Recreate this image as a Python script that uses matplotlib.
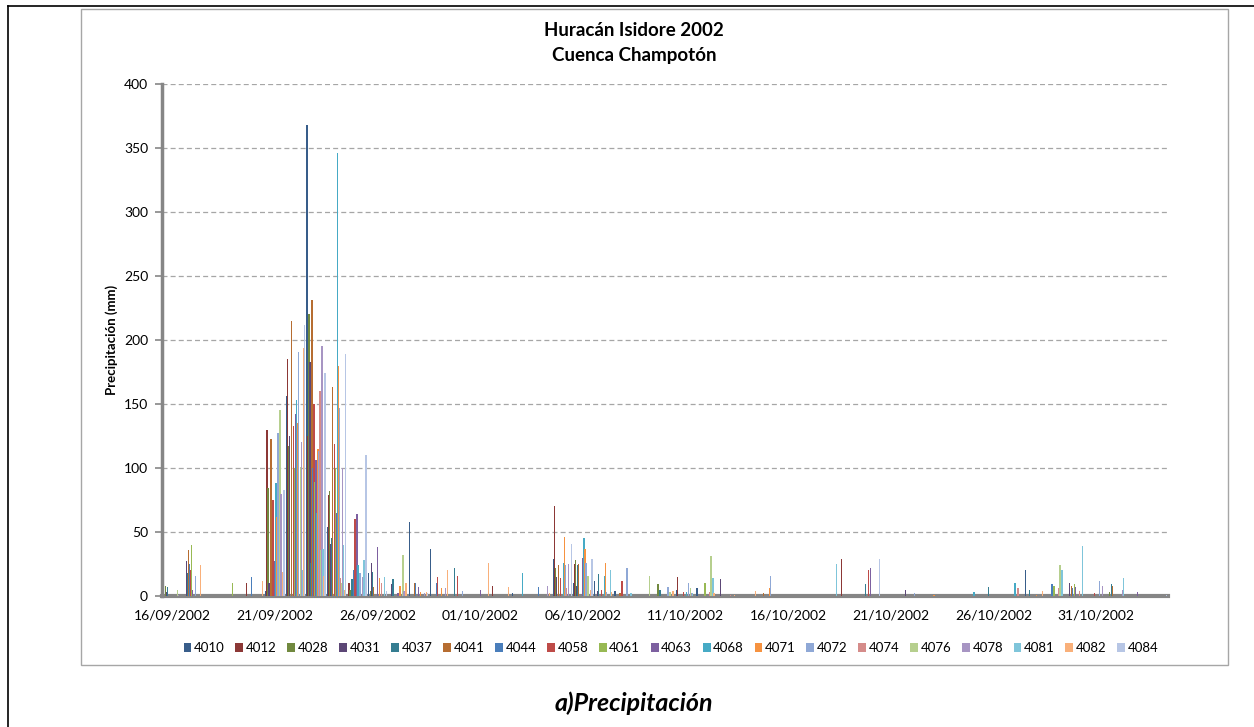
import numpy as np
import matplotlib
matplotlib.use("Agg")
import matplotlib.pyplot as plt
from matplotlib.patches import Rectangle
from matplotlib.lines import Line2D

plt.rcParams["font.family"] = ["Lato", "DejaVu Sans"]

# Daily rainfall (mm), 16/09/2002 .. 03/11/2002, one row per week
p4010 = [0, 0, 0, 0, 0, 4, 156,
         368, 54, 0, 18, 0, 58, 37,
         0, 0, 0, 2, 0, 29, 10,
         12, 4, 0, 0, 5, 6, 0,
         0, 0, 0, 0, 0, 0, 0,
         0, 0, 0, 0, 0, 0, 0,
         20, 0, 0, 0, 0, 0, 0]
p4012 = [0, 0, 0, 0, 10, 130, 185,
         125, 79, 10, 0, 0, 0, 0,
         0, 0, 8, 0, 0, 70, 25,
         0, 0, 0, 0, 15, 0, 0,
         0, 0, 0, 0, 0, 29, 0,
         0, 0, 0, 0, 0, 0, 0,
         0, 0, 0, 0, 0, 0, 0]
p4028 = [8, 0, 0, 0, 0, 84, 117,
         220, 82, 5, 4, 0, 0, 0,
         0, 0, 0, 0, 0, 22, 28,
         0, 0, 0, 9, 0, 0, 0,
         0, 0, 0, 0, 0, 0, 0,
         0, 0, 0, 0, 0, 0, 0,
         0, 0, 0, 0, 3, 0, 0]
p4031 = [3, 27, 0, 0, 0, 10, 125,
         183, 41, 0, 26, 9, 0, 0,
         0, 0, 0, 0, 0, 15, 8,
         4, 0, 0, 0, 0, 0, 13,
         0, 0, 0, 0, 0, 0, 0,
         0, 5, 0, 0, 0, 0, 0,
         0, 0, 10, 0, 0, 0, 0]
p4037 = [7, 18, 0, 0, 0, 0, 0,
         26, 45, 13, 19, 13, 0, 0,
         22, 0, 0, 0, 0, 0, 24,
         17, 0, 0, 5, 0, 0, 0,
         0, 0, 0, 0, 0, 0, 9,
         0, 0, 0, 0, 0, 7, 0,
         5, 0, 0, 0, 9, 0, 0]
p4041 = [0, 36, 0, 0, 0, 123, 215,
         231, 163, 0, 7, 0, 10, 0,
         0, 0, 0, 0, 0, 24, 25,
         0, 2, 0, 0, 0, 0, 0,
         0, 2, 0, 0, 0, 0, 0,
         0, 0, 0, 0, 0, 0, 0,
         0, 0, 8, 0, 8, 0, 0]
p4044 = [0, 25, 0, 0, 15, 0, 0,
         100, 0, 20, 0, 0, 10, 10,
         0, 0, 0, 0, 7, 0, 0,
         0, 0, 0, 0, 0, 0, 0,
         0, 0, 0, 0, 0, 0, 0,
         0, 0, 0, 0, 0, 0, 0,
         0, 9, 6, 0, 0, 0, 0]
p4058 = [0, 20, 0, 0, 0, 75, 133,
         150, 119, 60, 0, 0, 0, 15,
         16, 0, 0, 0, 0, 14, 0,
         5, 12, 0, 0, 3, 0, 0,
         0, 0, 0, 0, 0, 0, 20,
         0, 0, 0, 0, 0, 0, 0,
         0, 0, 0, 2, 0, 0, 0]
p4061 = [0, 40, 0, 10, 0, 0, 100,
         89, 100, 0, 0, 0, 0, 0,
         0, 0, 0, 0, 0, 0, 0,
         0, 0, 0, 0, 0, 10, 0,
         0, 0, 0, 0, 0, 0, 0,
         0, 0, 0, 0, 0, 0, 0,
         0, 8, 9, 0, 0, 0, 0]
p4063 = [0, 5, 0, 0, 0, 27, 142,
         106, 65, 64, 38, 2, 7, 0,
         0, 5, 0, 0, 0, 0, 30,
         0, 0, 0, 0, 0, 0, 0,
         0, 0, 0, 0, 0, 0, 22,
         0, 0, 0, 0, 0, 0, 0,
         0, 0, 7, 0, 0, 3, 0]
p4068 = [0, 0, 0, 0, 0, 88, 153,
         65, 346, 24, 0, 0, 0, 0,
         0, 0, 0, 18, 0, 26, 45,
         16, 0, 0, 0, 3, 0, 0,
         0, 0, 0, 0, 0, 0, 0,
         0, 0, 0, 0, 3, 0, 10,
         0, 0, 0, 0, 0, 0, 0]
p4071 = [0, 0, 0, 0, 0, 62, 135,
         115, 180, 0, 14, 8, 3, 6,
         0, 0, 0, 0, 0, 46, 37,
         26, 0, 0, 0, 0, 0, 0,
         0, 6, 0, 0, 0, 0, 0,
         0, 0, 1, 0, 0, 0, 0,
         1, 0, 0, 0, 0, 0, 0]
p4072 = [0, 16, 0, 0, 0, 127, 191,
         113, 147, 18, 0, 0, 0, 0,
         4, 0, 0, 0, 0, 24, 26,
         3, 22, 0, 7, 10, 0, 0,
         0, 16, 0, 0, 0, 0, 0,
         0, 2, 0, 0, 0, 0, 0,
         0, 0, 0, 12, 0, 0, 0]
p4074 = [0, 0, 0, 0, 0, 0, 0,
         160, 14, 0, 10, 0, 0, 0,
         0, 0, 0, 0, 0, 6, 0,
         0, 0, 0, 0, 0, 3, 1,
         0, 0, 0, 0, 0, 0, 0,
         0, 0, 0, 0, 0, 0, 6,
         0, 6, 4, 0, 0, 0, 0]
p4076 = [5, 0, 0, 0, 0, 145, 101,
         36, 10, 0, 0, 32, 0, 0,
         0, 0, 0, 0, 0, 0, 16,
         0, 0, 16, 3, 6, 31, 0,
         0, 0, 0, 0, 0, 0, 0,
         0, 0, 0, 0, 0, 0, 0,
         0, 24, 0, 0, 0, 0, 0]
p4078 = [1, 0, 0, 0, 0, 80, 120,
         195, 100, 15, 0, 4, 2, 6,
         0, 0, 0, 0, 8, 25, 0,
         0, 0, 0, 0, 2, 0, 0,
         0, 0, 0, 0, 0, 0, 0,
         0, 0, 0, 0, 0, 0, 0,
         0, 0, 0, 8, 5, 0, 0]
p4081 = [0, 0, 0, 0, 0, 0, 20,
         37, 40, 28, 15, 0, 0, 0,
         0, 0, 0, 0, 0, 0, 0,
         20, 2, 0, 0, 2, 14, 0,
         0, 0, 0, 0, 25, 0, 0,
         0, 0, 0, 0, 0, 0, 0,
         0, 20, 39, 0, 14, 0, 0]
p4082 = [0, 24, 0, 0, 12, 19, 194,
         16, 5, 0, 0, 10, 3, 20,
         0, 26, 7, 0, 2, 0, 5,
         3, 0, 0, 4, 0, 2, 1,
         4, 0, 0, 0, 0, 0, 0,
         0, 0, 0, 0, 0, 0, 0,
         4, 0, 0, 0, 0, 0, 0]
p4084 = [0, 0, 0, 0, 0, 83, 212,
         174, 189, 110, 4, 0, 2, 0,
         0, 0, 0, 0, 0, 41, 29,
         0, 0, 0, 0, 0, 0, 0,
         0, 0, 0, 0, 0, 0, 29,
         0, 0, 0, 0, 0, 0, 0,
         0, 0, 0, 0, 0, 0, 1]

stations = ["4010", "4012", "4028", "4031", "4037", "4041", "4044", "4058", "4061",
            "4063", "4068", "4071", "4072", "4074", "4076", "4078", "4081", "4082", "4084"]
series = [p4010, p4012, p4028, p4031, p4037, p4041, p4044, p4058, p4061,
          p4063, p4068, p4071, p4072, p4074, p4076, p4078, p4081, p4082, p4084]
colors = ["#385D8A", "#8C3836", "#71893F", "#5C4776", "#357D91", "#B66D31",
          "#4A7EBB", "#BE4B48", "#98B954", "#7D60A0", "#46AAC5", "#F69240",
          "#8FA8D6", "#D58C8A", "#B6CF8E", "#A795C3", "#7FC5DA", "#F9B07A", "#B7C6E5"]

tick_days = [0, 5, 10, 15, 20, 25, 30, 35, 40, 45]
tick_labels = ["16/09/2002", "21/09/2002", "26/09/2002", "01/10/2002", "06/10/2002",
               "11/10/2002", "16/10/2002", "21/10/2002", "26/10/2002", "31/10/2002"]

W, H = 1254, 727
fig = plt.figure(figsize=(W / 100, H / 100), dpi=100)
ax = fig.add_axes([162 / W, 1 - 596 / H, (1168 - 162) / W, (596 - 84) / H])

days = np.arange(len(p4010))
w = 1.25 / 20.5  # one bar per station, a bit over one pixel wide
for i, (name, vals, col) in enumerate(zip(stations, series, colors)):
    ax.bar(days + (i - 9) * (1.0 / 20.5), vals, width=w, color=col, linewidth=0,
           label=name, zorder=3)

ax.set_xlim(-0.5, len(days) - 0.5)
ax.set_ylim(0, 400)
ax.set_yticks(range(0, 401, 50))
ax.set_xticks(tick_days)
ax.set_xticklabels(tick_labels)
ax.tick_params(axis="x", length=0, pad=10, labelsize=10)
ax.tick_params(axis="y", length=5, width=1.2, color="#868686", pad=5, labelsize=10)
ax.yaxis.grid(True, linestyle=(0, (4, 2.5)), color="#A6A6A6", linewidth=0.9, zorder=0)
for s in ["top", "right"]:
    ax.spines[s].set_visible(False)
ax.spines["left"].set_color("#868686")
ax.spines["left"].set_linewidth(2.5)
ax.spines["bottom"].set_color("#868686")
ax.spines["bottom"].set_linewidth(3)
ax.set_ylabel("Precipitación (mm)", fontsize=9.5, fontweight="bold", labelpad=4)

fig.text(634 / W, 1 - 30 / H, "Huracán Isidore 2002", ha="center", va="center",
         fontsize=13.5, fontweight="bold")
fig.text(634 / W, 1 - 55 / H, "Cuenca Champotón", ha="center", va="center",
         fontsize=13.5, fontweight="bold")

ax.legend(loc="center", bbox_to_anchor=(671 / W, 1 - 648 / H), bbox_transform=fig.transFigure,
          ncol=19, frameon=False, fontsize=9.5, handlelength=0.6, handleheight=0.6,
          handletextpad=0.2, columnspacing=0.8)

# chart frame and outer cell border
fig.add_artist(Rectangle((81 / W, 1 - 665 / H), (1228 - 81) / W, (665 - 9) / H,
                         transform=fig.transFigure, fill=False, edgecolor="#A6A6A6", lw=1))
fig.add_artist(Line2D([8 / W, 8 / W], [0, 1 - 6 / H], transform=fig.transFigure,
                      color="black", lw=1.2))
fig.add_artist(Line2D([8 / W, 1], [1 - 6 / H, 1 - 6 / H], transform=fig.transFigure,
                      color="black", lw=1.2))

fig.text(634 / W, 1 - 703 / H, "a)Precipitación", ha="center", va="center",
         fontsize=18, fontweight="bold", fontstyle="italic")

fig.savefig("out.png", dpi=100)
